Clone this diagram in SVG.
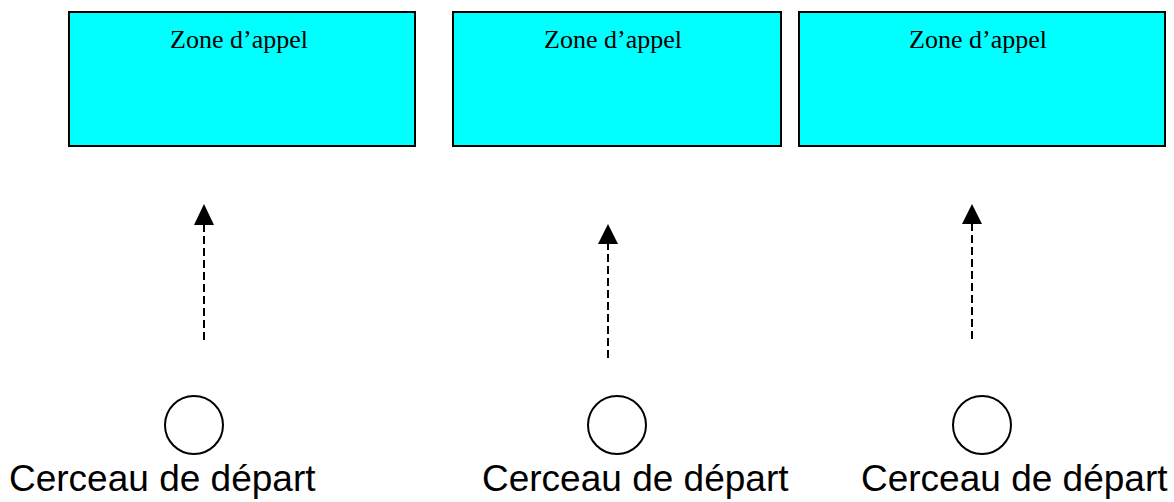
<svg xmlns="http://www.w3.org/2000/svg" width="1174" height="502" viewBox="0 0 1174 502">
  <defs>
    <style>
      .zone rect { fill: #00ffff; stroke: #000; stroke-width: 2; }
      .zone text { font-family: "Liberation Serif", "Times New Roman", serif; font-size: 26px; fill: #000; text-anchor: middle; }
      .hoop circle { fill: #fff; stroke: #000; stroke-width: 2; }
      .hoop text { font-family: "Liberation Sans", Arial, sans-serif; font-size: 37px; fill: #000; }
      .link { stroke: #000; stroke-width: 2; stroke-dasharray: 8 4; fill: none; }
      .head { fill: #000; }
    </style>
  </defs>
  <rect width="1174" height="502" fill="#fff"/>

  <!-- Call zones -->
  <g id="zone1" class="zone">
    <rect x="69" y="12" width="346" height="134"/>
    <text x="239" y="48">Zone d’appel</text>
  </g>
  <g id="zone2" class="zone">
    <rect x="453" y="12" width="328" height="134"/>
    <text x="613" y="48">Zone d’appel</text>
  </g>
  <g id="zone3" class="zone">
    <rect x="799" y="12" width="366" height="134"/>
    <text x="978" y="48">Zone d’appel</text>
  </g>

  <!-- Dashed arrows pointing up toward the zones -->
  <g id="connectors">
    <line class="link" x1="204" y1="340" x2="204" y2="224"/>
    <polygon class="head" points="204,204 194,225 214,225"/>
    <line class="link" x1="608" y1="358" x2="608" y2="242"/>
    <polygon class="head" points="608,224 598,244 618,244"/>
    <line class="link" x1="972" y1="339" x2="972" y2="223"/>
    <polygon class="head" points="972,204 962,224 982,224"/>
  </g>

  <!-- Start hoops -->
  <g id="hoop1" class="hoop">
    <circle cx="194" cy="425" r="29"/>
    <text x="9" y="491">Cerceau de départ</text>
  </g>
  <g id="hoop2" class="hoop">
    <circle cx="617" cy="425" r="29"/>
    <text x="482" y="491">Cerceau de départ</text>
  </g>
  <g id="hoop3" class="hoop">
    <circle cx="982" cy="425" r="29"/>
    <text x="861" y="491">Cerceau de départ</text>
  </g>
</svg>
